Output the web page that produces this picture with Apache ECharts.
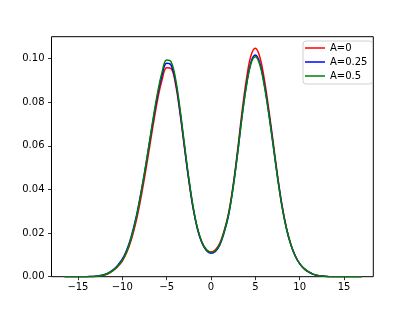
<!DOCTYPE html>
<html><head><meta charset="utf-8">
<script src="https://cdn.jsdelivr.net/npm/echarts@6/dist/echarts.min.js"></script>
<style>html,body{margin:0;padding:0;background:#fff}#c{width:415px;height:311px}</style>
</head><body><div id="c"></div>
<script>
const xs = [-16.5,-16,-15.5,-15,-14.5,-14,-13.5,-13,-12.5,-12,-11.5,-11,-10.5,-10,-9.5,-9,-8.5,-8,-7.5,-7,-6.5,-6,-5.5,-5,-4.5,-4,-3.5,-3,-2.5,-2,-1.5,-1,-0.5,0,0.5,1,1.5,2,2.5,3,3.5,4,4.5,5,5.5,6,6.5,7,7.5,8,8.5,9,9.5,10,10.5,11,11.5,12,12.5,13,13.5,14,14.5,15,15.5,16,16.5,17];
const seriesNames = ['A=0','A=0.25','A=0.5'];
const redA0 = [0,0,0,0,0,0,0,0.0001,0.0004,0.0008,0.0016,0.0029,0.0047,0.0072,0.0111,0.0167,0.0243,0.0340,0.0452,0.0574,0.0700,0.0815,0.0905,0.0958,0.0954,0.0883,0.0752,0.0595,0.0442,0.0311,0.0216,0.0155,0.0123,0.0113,0.0123,0.0154,0.0213,0.0295,0.0420,0.0580,0.0756,0.0906,0.1012,0.1047,0.1008,0.0908,0.0772,0.0620,0.0465,0.0330,0.0225,0.0149,0.0096,0.0060,0.0037,0.0022,0.0012,0.0006,0.0003,0.0001,0,0,0,0,0,0,0,0];
const blueA025 = [0,0,0,0,0,0,0.0001,0.0002,0.0005,0.0010,0.0019,0.0033,0.0053,0.0080,0.0122,0.0182,0.0262,0.0362,0.0475,0.0598,0.0722,0.0836,0.0927,0.0978,0.0970,0.0895,0.0760,0.0600,0.0445,0.0312,0.0215,0.0153,0.0119,0.0108,0.0116,0.0146,0.0205,0.0285,0.0412,0.0565,0.0735,0.0880,0.0982,0.1016,0.0980,0.0885,0.0755,0.0608,0.0458,0.0325,0.0222,0.0147,0.0095,0.0060,0.0037,0.0022,0.0012,0.0006,0.0003,0.0001,0,0,0,0,0,0,0,0];
const greenA05 = [0,0,0,0,0,0,0.0001,0.0002,0.0004,0.0009,0.0017,0.0030,0.0049,0.0075,0.0116,0.0176,0.0256,0.0358,0.0474,0.0600,0.0730,0.0847,0.0940,0.0993,0.0985,0.0908,0.0772,0.0610,0.0452,0.0318,0.0219,0.0156,0.0122,0.0111,0.0119,0.0149,0.0208,0.0289,0.0410,0.0565,0.0733,0.0875,0.0976,0.1008,0.0972,0.0878,0.0750,0.0605,0.0456,0.0324,0.0222,0.0147,0.0095,0.0060,0.0037,0.0022,0.0012,0.0006,0.0003,0.0001,0,0,0,0,0,0,0,0];
const xTicks = [-15,-10,-5,0,5,10,15];
const yTicks = [0,0.02,0.04,0.06,0.08,0.10];
const colors = ['#ff0000','#0000ff','#008000'];

const pair = arr => xs.map((x,i)=>[x,arr[i]]);
const font = 'DejaVu Sans';
const chart = echarts.init(document.getElementById('c'), null, {renderer:'canvas'});
chart.setOption({
  animation:false,
  backgroundColor:'#fff',
  grid:{left:51.5,right:41.7,top:36.7,bottom:34.3,show:true,borderColor:'#000',borderWidth:1,backgroundColor:'transparent'},
  xAxis:{type:'value',min:-17.98,max:18.3,
    axisLine:{show:false,onZero:false},
    axisTick:{show:true,inside:false,length:3.5,lineStyle:{color:'#000',width:0.8},customValues:xTicks},
    axisLabel:{show:true,margin:6,color:'#000',fontFamily:font,fontSize:10,customValues:xTicks,
      formatter:v=>v<0?'\u2212'+Math.abs(v):String(v)},
    splitLine:{show:false}},
  yAxis:{type:'value',min:0,max:0.11,
    axisLine:{show:false,onZero:false},
    axisTick:{show:true,inside:false,length:3.5,lineStyle:{color:'#000',width:0.8},customValues:yTicks},
    axisLabel:{show:true,margin:7,color:'#000',fontFamily:font,fontSize:10,customValues:yTicks,
      formatter:v=>v.toFixed(2)},
    splitLine:{show:false}},
  legend:{show:true,orient:'vertical',left:303,top:41,padding:[1,5,2,2],itemGap:2,
    itemWidth:20,itemHeight:1.5,icon:'rect',
    borderColor:'#d0d0d0',borderWidth:1,borderRadius:3,backgroundColor:'rgba(255,255,255,0.8)',
    textStyle:{fontFamily:font,fontSize:10,color:'#000',lineHeight:12},
    data:seriesNames},
  series:[redA0,blueA025,greenA05].map((arr,i)=>({
    name:seriesNames[i],type:'line',data:pair(arr),showSymbol:false,smooth:0.4,
    lineStyle:{color:colors[i],width:1.5},itemStyle:{color:colors[i]},z:2+i
  }))
});
</script></body></html>
